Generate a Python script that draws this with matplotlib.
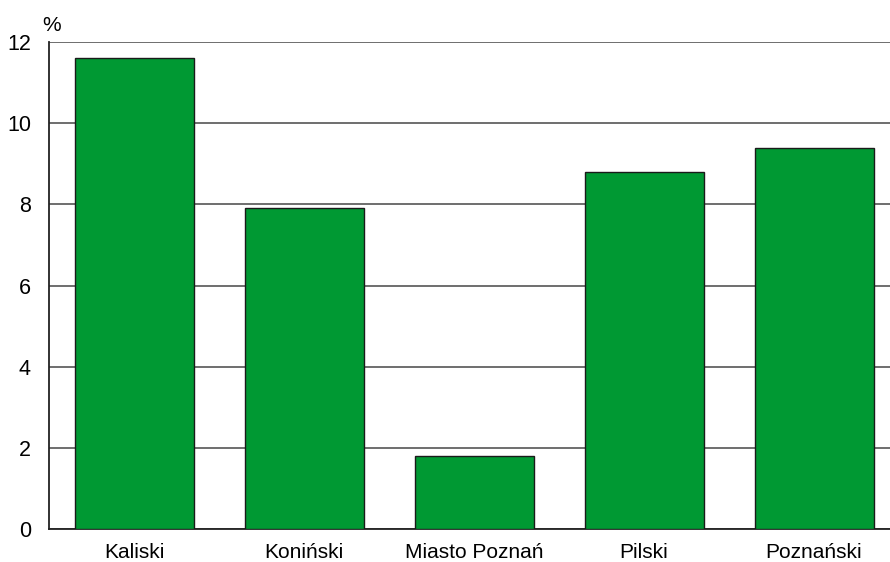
import matplotlib.pyplot as plt

plt.rcParams['font.family'] = ['Liberation Sans', 'DejaVu Sans']

# regions and values (%)
regions = ['Kaliski', 'Koniński', 'Miasto Poznań', 'Pilski', 'Poznański']
values = [11.6, 7.9, 1.8, 8.8, 9.4]
y_ticks = [0, 2, 4, 6, 8, 10, 12]

fig = plt.figure(figsize=(8.9, 5.62), dpi=100)
# plot area runs slightly past the right edge of the picture
ax = fig.add_axes([49 / 890, 1 - 529 / 562, 850 / 890, 487 / 562])

ax.bar(range(len(regions)), values, width=0.70, color='#009933',
       edgecolor='#1a1a1a', linewidth=1, zorder=3)

ax.set_xlim(-0.5, len(regions) - 0.5)
ax.set_ylim(0, 12)
ax.set_yticks(y_ticks)
ax.set_xticks(range(len(regions)))
ax.set_xticklabels(regions, fontsize=15)
ax.tick_params(axis='y', labelsize=15.5, length=0, pad=13)
ax.tick_params(axis='x', length=0, pad=10)
ax.yaxis.grid(True, color='#555555', linewidth=1.2, zorder=0)
ax.set_axisbelow(True)

for s in ['top', 'right']:
    ax.spines[s].set_visible(False)
for s in ['left', 'bottom']:
    ax.spines[s].set_color('#222222')
    ax.spines[s].set_linewidth(1.3)

ax.text(-0.008, 1.014, '%', transform=ax.transAxes, fontsize=15,
        ha='left', va='bottom')

fig.savefig('out.png', dpi=100)
